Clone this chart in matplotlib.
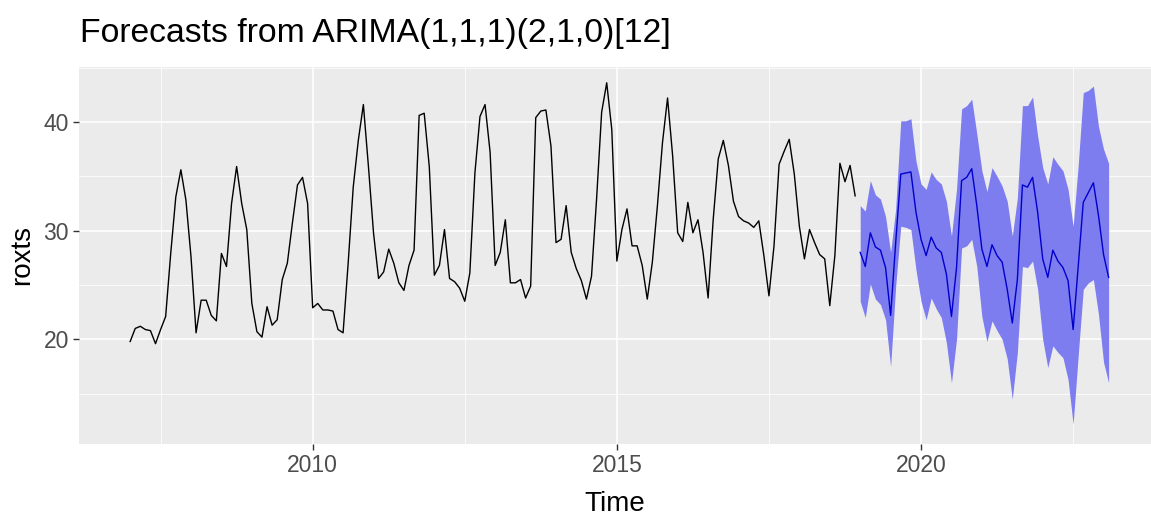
import numpy as np
import matplotlib.pyplot as plt
from matplotlib.ticker import FixedLocator

# observed monthly series, Jan 2007 - Dec 2018
roxts = [
    19.8, 21.0, 21.2, 20.9, 20.8, 19.6, 20.9, 22.1, 27.9, 33.1, 35.6, 32.8,  # 2007
    27.6, 20.6, 23.6, 23.6, 22.2, 21.7, 27.9, 26.7, 32.5, 35.9, 32.5, 30.1,  # 2008
    23.3, 20.7, 20.2, 23.0, 21.3, 21.8, 25.5, 27.0, 30.7, 34.2, 34.9, 32.5,  # 2009
    22.9, 23.3, 22.7, 22.7, 22.6, 20.9, 20.6, 27.0, 34.0, 38.3, 41.6, 35.9,  # 2010
    29.8, 25.6, 26.2, 28.3, 27.0, 25.2, 24.5, 26.8, 28.2, 40.6, 40.8, 35.9,  # 2011
    25.9, 26.8, 30.1, 25.6, 25.3, 24.7, 23.5, 26.1, 35.3, 40.5, 41.6, 37.2,  # 2012
    26.8, 28.0, 31.0, 25.2, 25.2, 25.5, 23.8, 24.9, 40.4, 41.0, 41.1, 37.8,  # 2013
    28.9, 29.2, 32.3, 28.0, 26.5, 25.4, 23.7, 25.8, 32.9, 40.9, 43.6, 39.3,  # 2014
    27.2, 30.1, 32.0, 28.6, 28.6, 26.8, 23.7, 27.1, 32.3, 38.1, 42.2, 36.9,  # 2015
    29.8, 29.0, 32.6, 29.8, 31.0, 28.0, 23.8, 31.0, 36.6, 38.3, 36.0, 32.7,  # 2016
    31.3, 30.9, 30.7, 30.3, 30.9, 27.7, 24.0, 28.6, 36.1, 37.3, 38.4, 35.2,  # 2017
    30.4, 27.4, 30.1, 28.9, 27.8, 27.4, 23.1, 27.7, 36.2, 34.5, 36.0, 33.2,  # 2018
]

# point forecast and prediction interval, Jan 2019 - Feb 2023
fc_mean = [
    28.0, 26.7, 29.8, 28.5, 28.2, 26.6, 22.2, 28.9, 35.2, 35.3, 35.4, 31.7,
    29.2, 27.7, 29.4, 28.4, 28.0, 26.0, 22.1, 26.6, 34.6, 34.9, 35.7, 32.3,
    28.3, 26.7, 28.7, 27.7, 27.1, 24.6, 21.5, 25.5, 34.2, 34.0, 34.9, 31.7,
    27.4, 25.7, 28.2, 27.2, 26.6, 25.4, 20.9, 26.7, 32.6, 33.5, 34.4, 31.4,
    27.8, 25.7,
]
fc_upper = [
    32.3, 31.8, 34.6, 33.3, 32.9, 31.3, 28.0, 32.0, 40.1, 40.1, 40.3, 36.4,
    34.3, 33.8, 35.4, 34.7, 34.3, 32.7, 29.5, 33.8, 41.2, 41.5, 42.1, 38.9,
    35.5, 33.6, 35.8, 35.0, 34.1, 32.7, 29.5, 33.0, 41.5, 41.5, 42.3, 38.7,
    35.8, 34.3, 36.8, 36.1, 35.5, 33.8, 30.4, 36.0, 42.7, 42.9, 43.3, 39.6,
    37.5, 36.2,
]
fc_lower = [
    23.5, 22.0, 25.1, 23.7, 23.2, 21.8, 17.5, 24.9, 30.4, 30.3, 30.1, 26.4,
    23.5, 21.8, 23.8, 22.8, 22.0, 19.7, 16.0, 20.0, 28.4, 28.6, 29.2, 26.7,
    22.1, 19.8, 21.7, 20.8, 20.0, 18.2, 14.5, 18.8, 26.7, 26.6, 27.2, 24.6,
    20.0, 17.4, 19.4, 18.8, 18.3, 16.3, 12.2, 18.5, 24.6, 25.2, 25.5, 22.3,
    17.9, 16.0,
]

start_year = 2007
fc_start_year = 2019

x_major = [2010, 2015, 2020]
x_minor = [2007.5, 2012.5, 2017.5, 2022.5]
y_major = [20, 30, 40]
y_minor = [15, 25, 35, 45]

plt.rcParams['font.family'] = ['Liberation Sans', 'DejaVu Sans']


def main():
    t_obs = start_year + np.arange(len(roxts)) / 12
    t_fc = fc_start_year + np.arange(len(fc_mean)) / 12

    fig = plt.figure(figsize=(11.51, 5.27), dpi=100)
    ax = fig.add_axes([0.0689, 0.1575, 0.9311, 0.7159])
    ax.set_facecolor('#EBEBEB')

    # ggplot-like grid
    ax.xaxis.set_major_locator(FixedLocator(x_major))
    ax.xaxis.set_minor_locator(FixedLocator(x_minor))
    ax.yaxis.set_major_locator(FixedLocator(y_major))
    ax.yaxis.set_minor_locator(FixedLocator(y_minor))
    ax.grid(which='major', color='white', linewidth=1.1)
    ax.grid(which='minor', color='white', linewidth=0.55)
    ax.set_axisbelow(True)
    for s in ax.spines.values():
        s.set_visible(False)

    ax.fill_between(t_fc, fc_lower, fc_upper, color='#7D7DEF', linewidth=0)
    ax.plot(t_obs, roxts, color='black', linewidth=1.0)
    ax.plot(t_fc, fc_mean, color='#0000CC', linewidth=1.0)

    ax.set_xlim(2006.164, 2023.78)
    ax.set_ylim(10.37, 45.08)

    ax.tick_params(which='major', length=4.5, width=1.0, color='#333333',
                   labelsize=16.5, labelcolor='#4D4D4D', pad=3)
    ax.tick_params(which='minor', length=0)
    ax.set_xticklabels([str(v) for v in x_major])
    ax.set_yticklabels([str(v) for v in y_major])

    ax.set_xlabel('Time', fontsize=20, color='black')
    ax.set_ylabel('roxts', fontsize=20, color='black')
    ax.xaxis.set_label_coords(0.5, -0.125)
    ax.yaxis.set_label_coords(-0.041, 0.5)

    fig.text(0.0695, 0.92, 'Forecasts from ARIMA(1,1,1)(2,1,0)[12]',
             fontsize=24.3, color='black', ha='left', va='baseline')

    fig.savefig('out.png', dpi=100)


if __name__ == "__main__":
    main()
